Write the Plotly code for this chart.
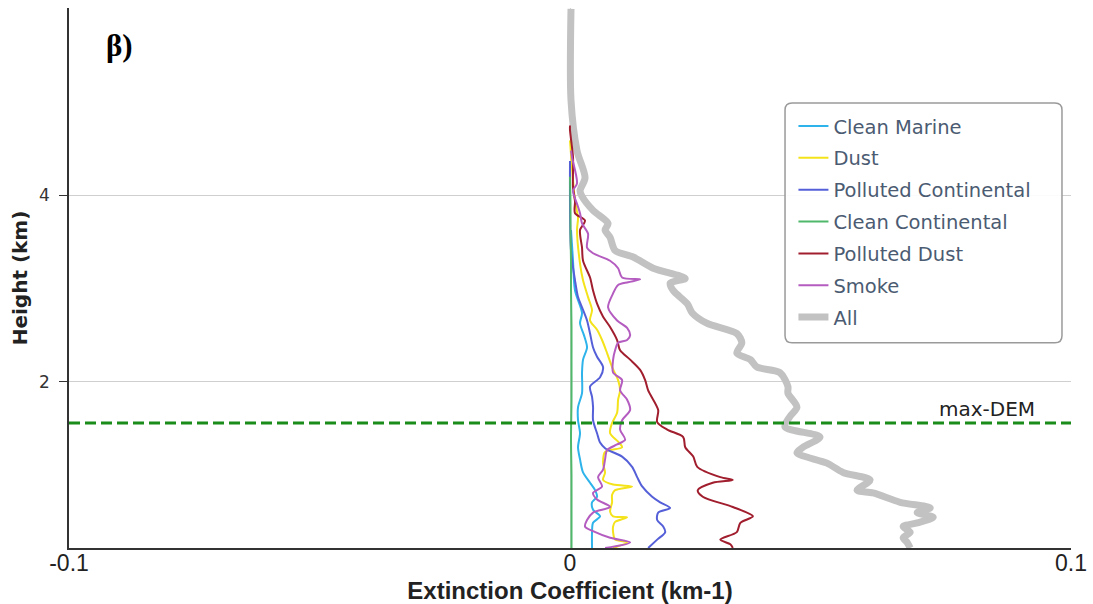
import plotly.graph_objects as go

# ---------------- data (km, km-1) ----------------
x_tick_vals = [-0.1, 0, 0.1]
x_tick_text = ["-0.1", "0", "0.1"]
y_tick_vals = [2, 4]
y_tick_text = ["2", "4"]
max_dem = 1.56

cm_h = [3.63, 3.30, 2.98, 2.74, 2.63, 2.50, 2.37, 2.24, 2.10, 1.88, 1.73, 1.59, 1.45, 1.30, 1.17,
        1.03, 0.92, 0.84, 0.77, 0.71, 0.63, 0.56, 0.49, 0.39, 0.22]
cm_x = [0.0002, 0.0006, 0.0010, 0.0024, 0.0020, 0.0028, 0.0034, 0.0026, 0.0024, 0.0024, 0.0016,
        0.0016, 0.0020, 0.0016, 0.0020, 0.0026, 0.0040, 0.0050, 0.0054, 0.0044, 0.0046, 0.0060,
        0.0046, 0.0044, 0.0044]

dust_h = [4.59, 3.94, 3.76, 3.63, 3.27, 3.09, 2.91, 2.77, 2.66, 2.56, 2.45, 2.31, 2.16, 2.02, 1.91,
          1.81, 1.67, 1.56, 1.45, 1.36, 1.30, 1.25, 1.13, 1.03, 0.95, 0.90, 0.88, 0.84, 0.79, 0.71,
          0.61, 0.56, 0.55, 0.50, 0.45, 0.39, 0.31, 0.28, 0.22]
dust_x = [0.0000, 0.0010, 0.0016, 0.0014, 0.0020, 0.0026, 0.0036, 0.0044, 0.0040, 0.0054, 0.0064,
          0.0074, 0.0084, 0.0096, 0.0100, 0.0096, 0.0094, 0.0084, 0.0080, 0.0096, 0.0104, 0.0070,
          0.0066, 0.0070, 0.0066, 0.0086, 0.0124, 0.0090, 0.0084, 0.0084, 0.0080, 0.0086, 0.0114,
          0.0090, 0.0086, 0.0086, 0.0090, 0.0114, 0.0086]

pc_h = [4.37, 3.41, 3.09, 2.91, 2.80, 2.66, 2.52, 2.37, 2.27, 2.16, 2.05, 1.95, 1.84, 1.73, 1.59,
        1.45, 1.35, 1.29, 1.27, 1.20, 1.09, 0.98, 0.88, 0.77, 0.71, 0.65, 0.60, 0.52, 0.45, 0.39,
        0.31, 0.22]
pc_x = [0.0000, 0.0002, 0.0010, 0.0016, 0.0024, 0.0034, 0.0040, 0.0046, 0.0054, 0.0066, 0.0060,
        0.0040, 0.0044, 0.0046, 0.0046, 0.0054, 0.0060, 0.0070, 0.0076, 0.0104, 0.0124, 0.0134,
        0.0144, 0.0164, 0.0180, 0.0200, 0.0176, 0.0174, 0.0186, 0.0190, 0.0174, 0.0156]

cc_h = [4.20, 3.90, 3.60, 3.30, 3.00, 2.60, 2.20, 1.80, 1.40, 1.00, 0.60, 0.22]
cc_x = [0.0000, 0.0001, 0.0001, 0.0002, 0.0002, 0.0003, 0.0003, 0.0003, 0.0002, 0.0003, 0.0003, 0.0003]

pd_h = [4.75, 4.70, 4.41, 4.09, 3.94, 3.81, 3.73, 3.63, 3.44, 3.30, 3.12, 2.98, 2.84, 2.70, 2.59,
        2.45, 2.34, 2.24, 2.13, 2.02, 1.91, 1.70, 1.57, 1.49, 1.41, 1.30, 1.20, 1.09, 0.98, 0.95,
        0.92, 0.84, 0.77, 0.66, 0.56, 0.49, 0.39, 0.31, 0.26, 0.22]
pd_x = [0.0000, 0.0000, 0.0006, 0.0006, 0.0010, 0.0010, 0.0030, 0.0020, 0.0024, 0.0026, 0.0040,
        0.0046, 0.0054, 0.0066, 0.0080, 0.0094, 0.0100, 0.0120, 0.0140, 0.0150, 0.0156, 0.0176,
        0.0174, 0.0194, 0.0226, 0.0230, 0.0246, 0.0254, 0.0300, 0.0325, 0.0285, 0.0255, 0.0265,
        0.0325, 0.0365, 0.0340, 0.0333, 0.0300, 0.0320, 0.0325]

sm_h = [4.48, 4.41, 4.13, 4.05, 3.91, 3.81, 3.70, 3.59, 3.44, 3.38, 3.30, 3.22, 3.12, 3.10, 3.07,
        3.04, 2.95, 2.80, 2.66, 2.58, 2.50, 2.45, 2.42, 2.34, 2.24, 2.10, 2.02, 1.91, 1.81, 1.70,
        1.59, 1.49, 1.38, 1.33, 1.27, 1.17, 1.06, 0.98, 0.88, 0.81, 0.74, 0.66, 0.60, 0.52, 0.45,
        0.40, 0.33, 0.28, 0.22]
sm_x = [0.0002, 0.0004, 0.0014, 0.0006, 0.0014, 0.0020, 0.0024, 0.0036, 0.0034, 0.0046, 0.0080,
        0.0096, 0.0104, 0.0140, 0.0116, 0.0096, 0.0086, 0.0076, 0.0094, 0.0114, 0.0120, 0.0114,
        0.0096, 0.0090, 0.0086, 0.0086, 0.0104, 0.0100, 0.0114, 0.0120, 0.0104, 0.0100, 0.0110,
        0.0094, 0.0074, 0.0070, 0.0066, 0.0056, 0.0064, 0.0046, 0.0054, 0.0080, 0.0046, 0.0034,
        0.0030, 0.0046, 0.0080, 0.0120, 0.0070]

all_h = [6.00, 5.02, 4.48, 4.19, 4.05, 3.99, 3.84, 3.70, 3.63, 3.55, 3.41, 3.34, 3.22, 3.11, 3.06,
         2.98, 2.84, 2.74, 2.63, 2.52, 2.42, 2.31, 2.24, 2.16, 2.10, 1.95, 1.88, 1.73, 1.63, 1.52,
         1.41, 1.30, 1.24, 1.13, 1.03, 0.95, 0.84, 0.81, 0.71, 0.65, 0.60, 0.55, 0.49, 0.45, 0.39,
         0.33, 0.28, 0.22]
all_x = [0.0002, 0.0002, 0.0014, 0.0030, 0.0020, 0.0024, 0.0046, 0.0076, 0.0070, 0.0080, 0.0090,
         0.0126, 0.0166, 0.0230, 0.0200, 0.0206, 0.0234, 0.0244, 0.0273, 0.0333, 0.0343, 0.0333,
         0.0360, 0.0373, 0.0419, 0.0435, 0.0435, 0.0453, 0.0439, 0.0429, 0.0499, 0.0465, 0.0453,
         0.0513, 0.0545, 0.0599, 0.0573, 0.0605, 0.0659, 0.0719, 0.0693, 0.0725, 0.0693, 0.0665,
         0.0679, 0.0665, 0.0673, 0.0679]

# drawing order: "All" first (underneath); legend order set by legendrank
series = [
    ("All", all_x, all_h, "#c2c2c2", 7, 7),
    ("Clean Marine", cm_x, cm_h, "#2eb3ea", 2, 1),
    ("Dust", dust_x, dust_h, "#f4e31a", 2, 2),
    ("Polluted Continental", pc_x, pc_h, "#5560d8", 2, 3),
    ("Clean Continental", cc_x, cc_h, "#4fb86a", 2, 4),
    ("Polluted Dust", pd_x, pd_h, "#a11e2e", 2, 5),
    ("Smoke", sm_x, sm_h, "#b45cc0", 2, 6),
]

fig = go.Figure()
for name, xs, hs, color, w, rank in series:
    fig.add_trace(go.Scatter(
        x=xs, y=hs, name=name, mode="lines",
        line=dict(color=color, width=w, shape="spline", smoothing=0.8),
        legendgroup=name, legendrank=rank,
        hoverinfo="skip",
    ))

fig.add_hline(y=max_dem, line=dict(color="#1a8c1a", width=3, dash="11px,5px"))
fig.add_annotation(xref="paper", yref="y", x=0.966, y=max_dem, yshift=14,
                   xanchor="right", yanchor="middle", showarrow=False, text="max-DEM",
                   font=dict(family="DejaVu Sans", size=20, color="#222"))
fig.add_annotation(xref="paper", yref="paper", x=0.035, y=0.93, xanchor="left", yanchor="middle",
                   showarrow=False, text="<b>β)</b>",
                   font=dict(family="Liberation Serif", size=31, color="#000"))

# rounded legend frame
x0, x1 = 0.7146, 0.9910
y0, y1 = 0.380, 0.824
rx, ry = 0.007, 0.013
path = (f"M{x0+rx},{y0} L{x1-rx},{y0} Q{x1},{y0} {x1},{y0+ry} L{x1},{y1-ry} Q{x1},{y1} {x1-rx},{y1} "
        f"L{x0+rx},{y1} Q{x0},{y1} {x0},{y1-ry} L{x0},{y0+ry} Q{x0},{y0} {x0+rx},{y0} Z")
fig.add_shape(type="path", xref="paper", yref="paper", path=path,
              line=dict(color="#9a9a9a", width=1.5), fillcolor="rgba(255,255,255,0.9)", layer="above")

fig.update_layout(
    width=1093, height=604,
    margin=dict(l=69, r=22, t=8, b=56),
    plot_bgcolor="white", paper_bgcolor="white",
    showlegend=True,
    legend=dict(x=0.723, y=0.817, xanchor="left", yanchor="top",
                bgcolor="rgba(0,0,0,0)", borderwidth=0,
                traceorder="grouped", tracegroupgap=3.5,
                font=dict(family="DejaVu Sans", size=19.5, color="#4b5b72")),
    xaxis=dict(range=[-0.1, 0.1], tickvals=x_tick_vals, ticktext=x_tick_text,
               showgrid=True, gridcolor="#d4d4d4", zeroline=False, automargin=False,
               showline=True, linecolor="#333", linewidth=2, ticks="", ticklabelstandoff=-7,
               tickfont=dict(family="Liberation Sans", size=23, color="#222"),
               title=dict(text="<b>Extinction Coefficient (km-1)</b>", standoff=8,
                          font=dict(family="Liberation Sans", size=24, color="#222"))),
    yaxis=dict(range=[0.22, 6.01], tickvals=y_tick_vals, ticktext=y_tick_text,
               showgrid=True, gridcolor="#cfcfcf", zeroline=False, automargin=False,
               showline=True, linecolor="#333", linewidth=1.5,
               ticks="outside", ticklen=8, tickcolor="#333", ticklabelstandoff=6,
               tickfont=dict(family="DejaVu Sans", size=17, color="#333"),
               title=dict(text="<b>Height (km)</b>", standoff=6,
                          font=dict(family="DejaVu Sans", size=20, color="#222"))),
)

fig.write_html("out.html")
